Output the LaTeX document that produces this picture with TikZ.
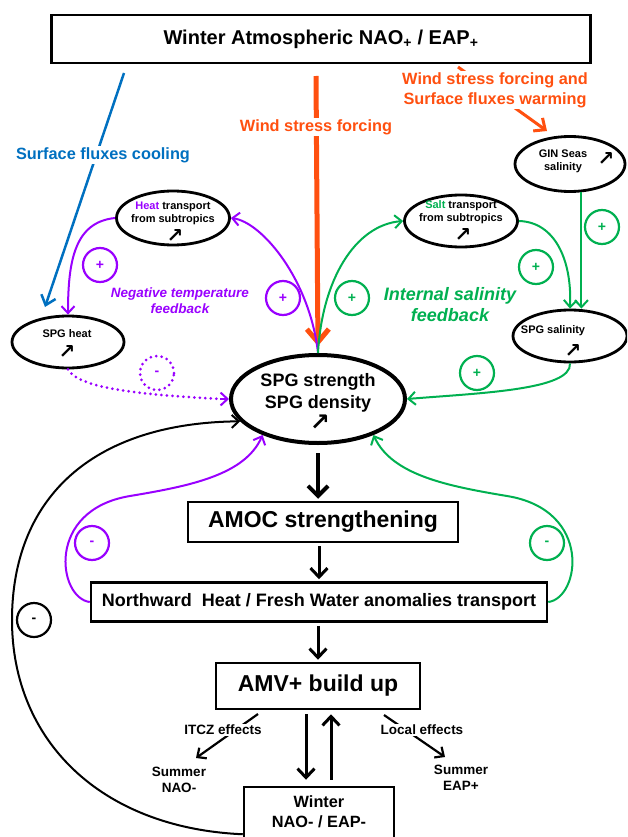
\documentclass[tikz,border=0pt]{standalone}
\usepackage{fontspec}
\setmainfont{Liberation Sans}
\newfontfamily\symfont{DejaVu Sans}
\usetikzlibrary{shapes.geometric,arrows.meta,calc}
\definecolor{pur}{HTML}{9900FF}
\definecolor{grn}{HTML}{00B050}
\definecolor{org}{HTML}{FF5010}
\definecolor{blu}{HTML}{0070C0}
\begin{document}
\begin{tikzpicture}[x=1pt,y=-1pt,font=\bfseries,
  box/.style={draw,line width=2.5pt,inner sep=2pt},
  oval/.style={draw,ellipse,line width=2.8pt,inner sep=0pt},
  txt/.style={inner sep=0pt,align=center},
  wbg/.style={fill=white,inner sep=1.5pt,align=center},
  sA/.style={font=\bfseries\fontsize{20}{24}\selectfont},
  sB/.style={font=\bfseries\fontsize{23}{27}\selectfont},
  sC/.style={font=\bfseries\fontsize{18}{21.5}\selectfont},
  sD/.style={font=\bfseries\fontsize{16.3}{20}\selectfont},
  sE/.style={font=\bfseries\fontsize{13.5}{15.5}\selectfont},
  sF/.style={font=\bfseries\fontsize{11}{13}\selectfont},
  sEi/.style={font=\bfseries\itshape\fontsize{13.5}{16}\selectfont},
  sCi/.style={font=\bfseries\itshape\fontsize{18}{21}\selectfont},
  arr/.style={inner sep=0pt,font=\symfont\bfseries\fontsize{20}{20}\selectfont},
  sgn/.style={circle,draw,line width=2.2pt,minimum size=34pt,inner sep=0pt,font=\bfseries\fontsize{14}{14}\selectfont},
  dotline/.style={line width=3pt,line cap=round,dash pattern=on 0pt off 5.5pt},
  pc/.style={draw=pur,line width=2pt,-{Straight Barb[length=7pt,width=13pt]}},
  gc/.style={draw=grn,line width=2pt,-{Straight Barb[length=7pt,width=13pt]}},
  bc/.style={draw=black,line width=2pt,-{Straight Barb[length=7pt,width=13pt]}},
  bthick/.style={draw=black,line width=4pt,-{Straight Barb[length=10pt,width=20pt]}},
  bmid/.style={draw=black,line width=3pt,-{Straight Barb[length=9pt,width=17pt]}},
  bsmall/.style={draw=black,line width=2.2pt,-{Straight Barb[length=7pt,width=13pt]}},
  oc/.style={draw=org,line width=5pt,-{Straight Barb[length=13pt,width=22pt]}},
  oc2/.style={draw=org,line width=3pt,-{Straight Barb[length=9pt,width=16pt]}},
  blc/.style={draw=blu,line width=2.5pt,-{Straight Barb[length=9pt,width=15pt]}}
]
\useasboundingbox (0,0) rectangle (627,837);
\clip (0,0) rectangle (627,837);

% top box
\node[box,minimum width=539pt,minimum height=48pt,sA] (top) at (321,39) {Winter Atmospheric NAO\textsubscript{+} / EAP\textsubscript{+}};

% ellipses
\node[oval,minimum width=110pt,minimum height=55pt] (gin) at (570,164) {};
\node[txt,sF] (gint) at (563,161) {GIN Seas\\salinity};
\node[arr] (gina) at (606,159) {↗};

\node[oval,minimum width=113pt,minimum height=54pt] (heat) at (173,218) {};
\node[txt,sF] (heatt) at (173,213) {\textcolor{pur}{Heat} transport\\from subtropics};
\node[arr] (heata) at (175,236) {↗};

\node[oval,minimum width=113pt,minimum height=52pt] (salt) at (461,221) {};
\node[txt,sF] (saltt) at (461,212) {\textcolor{grn}{Salt} transport\\from subtropics};
\node[arr] (salta) at (463,235) {↗};

\node[oval,minimum width=112pt,minimum height=52pt] (sph) at (68,342) {};
\node[txt,sF] (spht) at (67,334) {SPG heat};
\node[arr] (spha) at (67,352) {↗};

\node[oval,minimum width=114pt,minimum height=52pt] (sps) at (570,336) {};
\node[txt,sF] (spst) at (553,331) {SPG salinity};
\node[arr] (spsa) at (573,351) {↗};

\node[oval,line width=4pt,minimum width=174pt,minimum height=88pt] (spg) at (318,399) {};
\node[txt,sC] (spgt) at (318,393) {SPG strength\\SPG density};
\node[arr,font=\symfont\bfseries\fontsize{24}{24}\selectfont] (spga) at (320,423) {↗};

% boxes
\node[box,minimum width=270pt,minimum height=40pt,sB] (amoc) at (323,522) {AMOC strengthening};
\node[box,minimum width=456pt,minimum height=39pt,sC] (north) at (319,602) {Northward\ \ Heat / Fresh Water anomalies transport};
\node[box,minimum width=204pt,minimum height=46pt,sB] (amv) at (318,686) {AMV+ build up};
\node[box,minimum width=150pt,minimum height=60pt] (win) at (319,817) {};
\node[txt,sD] (wint) at (319,812) {Winter\\NAO- / EAP-};

\node[txt,sE] (snao) at (179,780) {Summer\\NAO-};
\node[txt,sE] (seap) at (461,778) {Summer\\EAP+};

% forcing connectors
\coordinate (b1) at (124,73);
\coordinate (b2) at (45,307);
\draw[blc] (b1) -- (b2);
\coordinate (o1) at (316,76);
\draw[oc,shorten >=7pt] (o1) -- (spg.north);
\coordinate (o2a) at (458,67);
\coordinate (o2b) at (547,131);
\draw[oc2] (o2a) -- (o2b);

% temperature loop
\draw[pc] (spg.north) .. controls (310,280) and (262,222) .. (heat.east);
\draw[pc] (heat.west) .. controls (75,222) and (68,260) .. (sph.north);
\draw[draw=pur,dotline] (sph.south) .. controls (80,390) and (150,395) .. ($(spg.west)+(-8,0)$);
\draw[draw=pur,line width=2pt,-{Straight Barb[length=7pt,width=13pt]}] ($(spg.west)+(-9,0)$) -- (spg.west);

% salinity loop
\draw[gc] (spg.north) .. controls (322,280) and (355,225) .. (salt.west);
\draw[gc] (salt.east) .. controls (555,222) and (572,260) .. (sps.north);
\draw[gc] (gin.-68) -- (gin.-68 |- sps.north);
\draw[gc] (sps.south) .. controls (572,390) and (480,393) .. (spg.east);

% return loops
\draw[pc] (north.west) .. controls (58,598) and (45,510) .. (130,496) .. controls (190,486) and (245,475) .. (spg.213);
\draw[gc] (north.east) .. controls (580,598) and (593,510) .. (507,496) .. controls (447,486) and (392,475) .. (spg.-33);
\draw[bc] ($(win.south west)+(0,-14)$) .. controls (100,828) and (12,740) .. (12,620) .. controls (12,500) and (90,423) .. (spg.196);

% main chain
\draw[bthick,shorten <=8pt,shorten >=2pt] (spg.south) -- (spg.south |- amoc.north);
\draw[bmid,shorten <=3pt,shorten >=2pt] (north.north |- amoc.south) -- (north.north);
\draw[bmid,shorten <=3pt,shorten >=2pt] (amv.north |- north.south) -- (amv.north);
\coordinate (d1) at ($(amv.south)+(-12,0)$);
\coordinate (u1) at ($(amv.south)+(13,0)$);
\draw[bmid,shorten <=4pt,shorten >=6pt] (d1) -- (d1 |- win.north);
\draw[bmid,shorten <=6pt,shorten >=4pt] (u1 |- win.north) -- (u1);

\coordinate (i1) at (258,714);
\coordinate (i2) at (196,758);
\draw[bsmall] (i1) -- (i2);
\coordinate (l1) at (384,715);
\coordinate (l2) at (445,757);
\draw[bsmall] (l1) -- (l2);

% labels
\node[wbg,sD,text=blu] (lcool) at (103,155) {Surface fluxes cooling};
\node[wbg,sD,text=org] (lwind) at (316,127) {Wind stress forcing};
\node[wbg,sD,text=org] (lwarm) at (495,90) {Wind stress forcing and\\Surface fluxes warming};
\node[txt,sEi,text=pur] (lneg) at (180,301) {Negative temperature\\feedback};
\node[txt,sCi,text=grn] (lsal) at (450,305) {Internal salinity\\feedback};
\node[wbg,sE] (litcz) at (223,730) {ITCZ effects};
\node[wbg,sE] (lloc) at (422,730) {Local effects};

% signs
\node[sgn,pur] (p1) at (100,265) {+};
\node[sgn,pur] (p2) at (283,298) {+};
\node[sgn,draw=none,text=pur] (m1) at (157,373) {-};
\draw[draw=pur,dotline] (m1.center) circle (17pt);
\node[sgn,grn] (g1) at (352,298) {+};
\node[sgn,grn] (g2) at (536,267) {+};
\node[sgn,grn] (g3) at (602,227) {+};
\node[sgn,grn] (g4) at (477,373) {+};
\node[sgn,pur] (m2) at (92,543) {-};
\node[sgn,grn] (m3) at (547,543) {-};
\node[sgn,black] (m4) at (34,620) {-};
\end{tikzpicture}
\end{document}
